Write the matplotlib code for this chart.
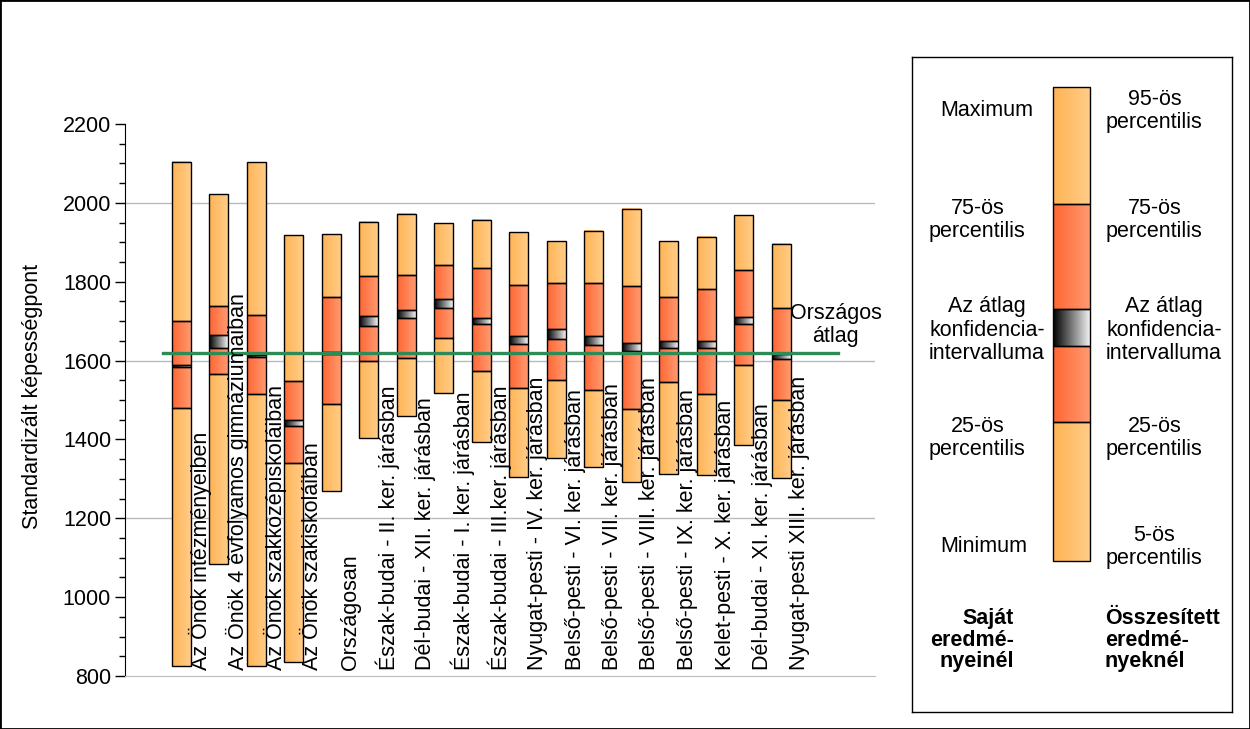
import numpy as np
import matplotlib
matplotlib.use("Agg")
import matplotlib.pyplot as plt
from matplotlib.colors import LinearSegmentedColormap
from matplotlib.patches import Rectangle

plt.rcParams["font.family"] = ["Liberation Sans", "DejaVu Sans"]
FS = 15.5

categories = [
    "Az Önök intézményeiben",
    "Az Önök 4 évfolyamos gimnáziumaiban",
    "Az Önök szakközépiskoláiban",
    "Az Önök szakiskoláiban",
    "Országosan",
    "Észak-budai - II. ker. járásban",
    "Dél-budai - XII. ker. járásban",
    "Észak-budai - I. ker. járásban",
    "Észak-budai - III.ker. járásban",
    "Nyugat-pesti - IV. ker. járásban",
    "Belső-pesti - VI. ker. járásban",
    "Belső-pesti - VII. ker. járásban",
    "Belső-pesti - VIII. ker. járásban",
    "Belső-pesti - IX. ker. járásban",
    "Kelet-pesti - X. ker. járásban",
    "Dél-budai - XI. ker. járásban",
    "Nyugat-pesti XIII. ker. járásban",
]
top_vals = [2104, 2023, 2104, 1918, 1920, 1952, 1972, 1949, 1957, 1926, 1903, 1929, 1985, 1903, 1914, 1969, 1896]
p75_vals = [1700, 1739, 1716, 1548, 1761, 1815, 1817, 1843, 1835, 1792, 1797, 1797, 1789, 1761, 1782, 1830, 1733]
ci_hi = [1589, 1665, 1615, 1449, 1622, 1714, 1729, 1757, 1709, 1663, 1681, 1663, 1645, 1650, 1650, 1711, 1617]
ci_lo = [1583, 1633, 1609, 1433, 1617, 1687, 1707, 1733, 1692, 1642, 1655, 1639, 1624, 1631, 1631, 1693, 1604]
p25_vals = [1480, 1566, 1515, 1340, 1490, 1599, 1607, 1657, 1574, 1530, 1551, 1525, 1477, 1546, 1514, 1589, 1500]
bottom_vals = [826, 1085, 826, 835, 1270, 1403, 1459, 1519, 1393, 1305, 1353, 1330, 1293, 1313, 1310, 1385, 1302]
national_avg = 1620

cm_light = LinearSegmentedColormap.from_list("light", ["#FFB455", "#FFCC88"])
cm_red = LinearSegmentedColormap.from_list("red", ["#FF6633", "#FF9A70"])
cm_ci = LinearSegmentedColormap.from_list("ci", ["#000000", "#F0F0F0"])
grad = np.linspace(0, 1, 64).reshape(1, -1)


def seg(ax, x0, x1, y0, y1, cmap):
    ax.imshow(grad, extent=(x0, x1, y0, y1), cmap=cmap, aspect="auto",
              interpolation="bilinear", zorder=2)
    ax.add_patch(Rectangle((x0, y0), x1 - x0, y1 - y0, fill=False,
                           edgecolor="black", linewidth=1.0, zorder=3))


fig = plt.figure(figsize=(12.5, 7.29), dpi=100)
fig.patches.append(Rectangle((0, 0), 1, 1, transform=fig.transFigure, fill=False,
                             edgecolor="black", linewidth=2))

ax = fig.add_axes([125 / 1250, 1 - 676 / 729, 750 / 1250, 552 / 729])
ax.set_xlim(0, 20)
ax.set_ylim(800, 2200)

for y in [1200, 1600, 2000]:
    ax.axhline(y, color="#BBBBBB", linewidth=1, zorder=1)

w = 0.5
for i in range(len(categories)):
    xc = i + 1.5
    x0, x1 = xc - w / 2, xc + w / 2
    seg(ax, x0, x1, bottom_vals[i], p25_vals[i], cm_light)
    seg(ax, x0, x1, p25_vals[i], ci_lo[i], cm_red)
    seg(ax, x0, x1, ci_lo[i], ci_hi[i], cm_ci)
    seg(ax, x0, x1, ci_hi[i], p75_vals[i], cm_red)
    seg(ax, x0, x1, p75_vals[i], top_vals[i], cm_light)
    ax.text(i + 2.0, 815, categories[i], rotation=90, ha="center", va="bottom",
            fontsize=FS, zorder=5)

ax.plot([1, 19], [national_avg, national_avg], color="#2E8B57", linewidth=2.4, zorder=4)
ax.text(18.95, 1690, "Országos\nátlag", ha="center", va="center", fontsize=FS,
        linespacing=1.1, zorder=5)

for s in ["top", "right"]:
    ax.spines[s].set_visible(False)
ax.spines["bottom"].set_color("#BBBBBB")
ax.spines["left"].set_color("black")
ax.set_xticks([])
ax.set_yticks(np.arange(800, 2201, 200))
ax.set_yticks(np.arange(800, 2201, 50), minor=True)
ax.tick_params(axis="y", which="major", length=7, width=1, labelsize=FS, pad=3)
ax.tick_params(axis="y", which="minor", length=4, width=1)
fig.text(33 / 1250, 1 - 396 / 729, "Standardizált képességpont", rotation=90,
         ha="center", va="center", fontsize=FS)

# legend panel, drawn in pixel coordinates
lg = fig.add_axes([912 / 1250, 1 - 712 / 729, 320 / 1250, 655 / 729])
lg.set_xticks([])
lg.set_yticks([])
for s in lg.spines.values():
    s.set_color("black")
    s.set_linewidth(1)
edges = [561, 422, 346, 309, 204, 87]
cmaps = [cm_light, cm_red, cm_ci, cm_red, cm_light]
for k in range(5):
    lg.imshow(grad, extent=(1053, 1090, edges[k], edges[k + 1]), cmap=cmaps[k],
              aspect="auto", interpolation="bilinear", zorder=2)
    lg.add_patch(Rectangle((1053, edges[k + 1]), 37, edges[k] - edges[k + 1], fill=False,
                           edgecolor="black", linewidth=1, zorder=3))
lg.set_xlim(912, 1232)
lg.set_ylim(712, 57)

left_items = [("75-ös\npercentilis", 220),
              ("Az átlag\nkonfidencia-\nintervalluma", 330), ("25-ös\npercentilis", 438)]
right_items = [("95-ös\npercentilis", 111), ("75-ös\npercentilis", 220),
               ("Az átlag\nkonfidencia-\nintervalluma", 330), ("25-ös\npercentilis", 438),
               ("5-ös\npercentilis", 547)]
lg.text(940, 110, "Maximum", ha="left", va="center", fontsize=FS)
lg.text(940, 546, "Minimum", ha="left", va="center", fontsize=FS)
for txt, y in left_items:
    lg.text(929, y, txt, ha="left", va="center", multialignment="center",
            fontsize=FS, linespacing=1.15)
for txt, y in right_items:
    lg.text(1106, y, txt, ha="left", va="center", multialignment="center",
            fontsize=FS, linespacing=1.15)
lg.text(1014, 640, "Saját\neredmé-\nnyeinél", ha="right", va="center",
        multialignment="right", fontsize=FS, fontweight="bold", linespacing=1.05)
lg.text(1105, 640, "Összesített\neredmé-\nnyeknél", ha="left", va="center", fontsize=FS,
        fontweight="bold", linespacing=1.05)

fig.savefig("out.png", dpi=100)
